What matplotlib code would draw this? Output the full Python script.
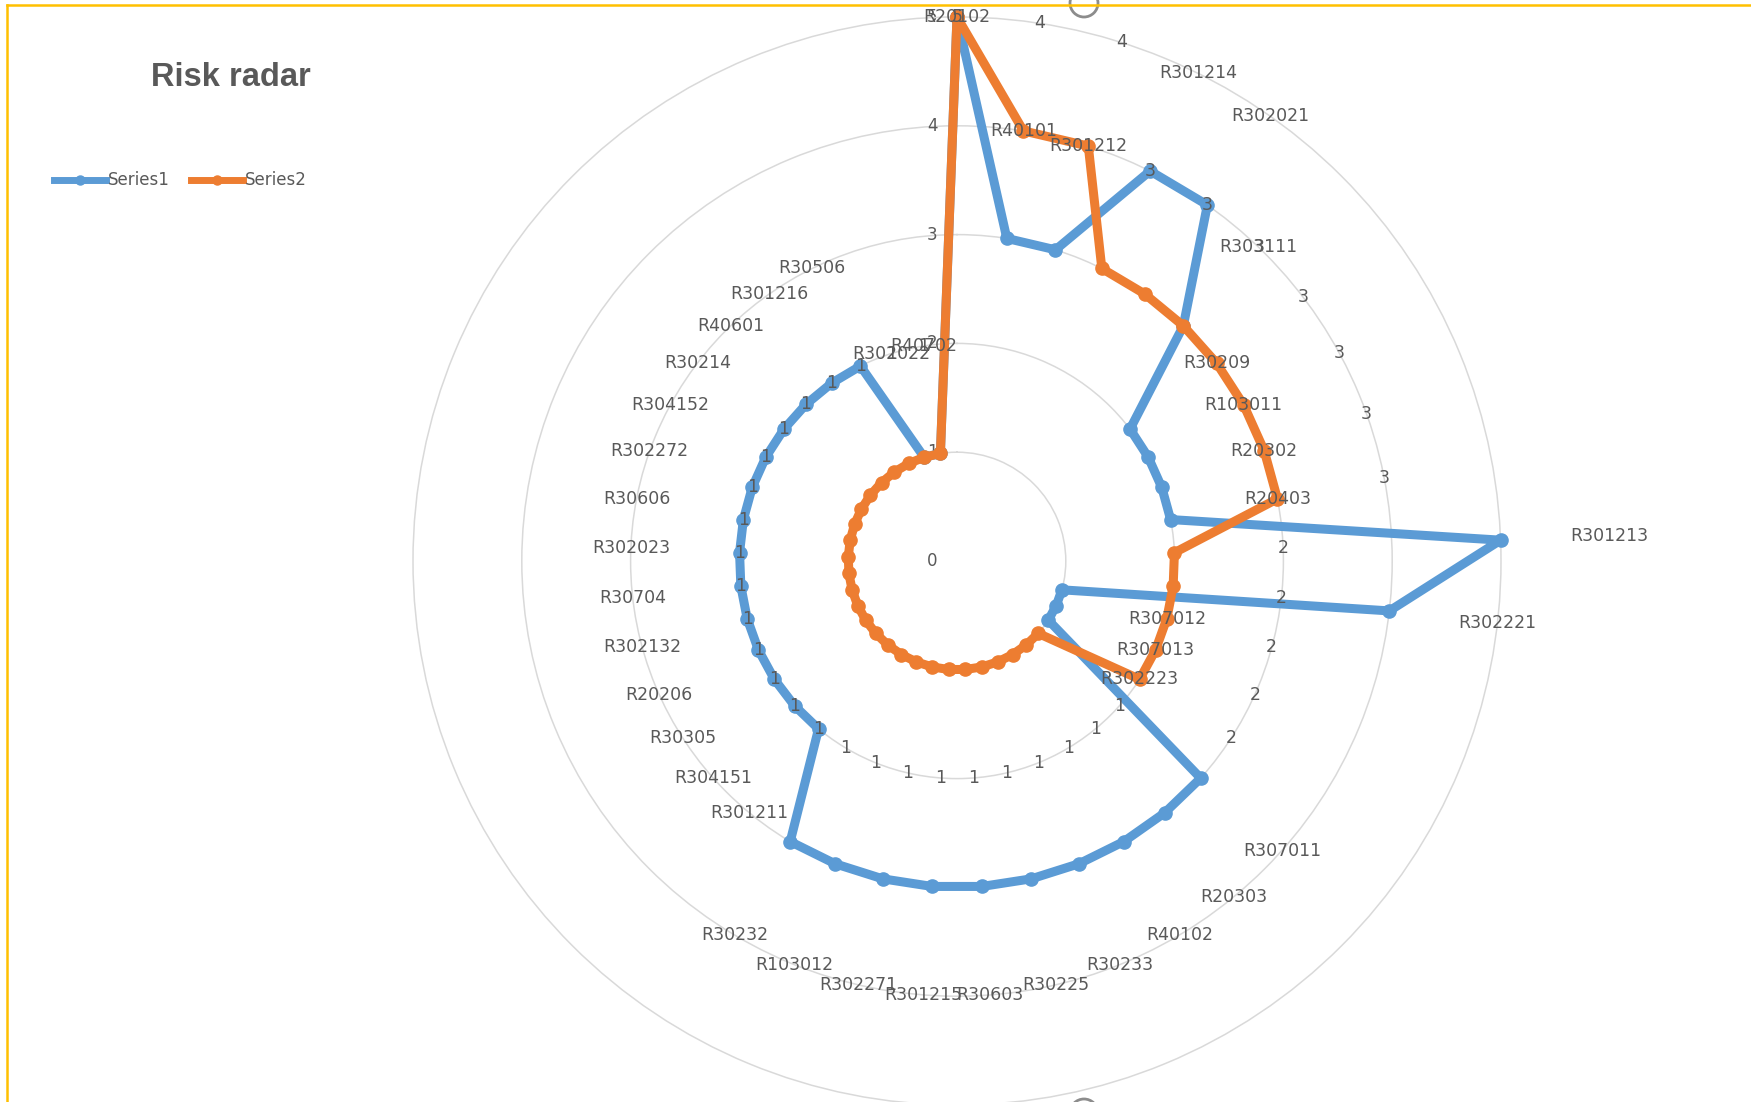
import numpy as np
import matplotlib
matplotlib.use("Agg")
import matplotlib.pyplot as plt
from matplotlib.lines import Line2D
from matplotlib.patches import Ellipse
from matplotlib.transforms import offset_copy

# risk codes, clockwise from the top
categories = [
    "R20102", "R40101", "R301212", "R301214", "R302021", "R303111", "R30209",
    "R103011", "R20302", "R20403", "R301213", "R302221", "R307012", "R307013",
    "R302223", "R307011", "R20303", "R40102", "R30233", "R30225", "R30603",
    "R301215", "R302271", "R103012", "R30232", "R301211", "R304151", "R30305",
    "R20206", "R302132", "R30704", "R302023", "R30606", "R302272", "R304152",
    "R30214", "R40601", "R301216", "R30506", "R302022", "R40702",
]

series1 = [5, 3, 3, 4, 4, 3, 2, 2, 2, 2,
           5, 4, 1, 1, 1, 3, 3, 3, 3, 3,
           3, 3, 3, 3, 3, 2, 2, 2, 2, 2,
           2, 2, 2, 2, 2, 2, 2, 2, 2, 1, 1]

series2 = [5, 4, 4, 3, 3, 3, 3, 3, 3, 3,
           2, 2, 2, 2, 2, 1, 1, 1, 1, 1,
           1, 1, 1, 1, 1, 1, 1, 1, 1, 1,
           1, 1, 1, 1, 1, 1, 1, 1, 1, 1, 1]

ring_ticks = [0, 1, 2, 3, 4, 5]

BLUE = "#5B9BD5"
ORANGE = "#ED7D31"
TEXT = "#595959"
GRID = "#d9d9d9"

W, H = 1751, 1102
fig = plt.figure(figsize=(W / 100, H / 100), dpi=100)
fig.patch.set_facecolor("white")

# polar area: centre and outer radius in pixels
cx, cy, R = 957, H - 561, 544
ax = fig.add_axes([(cx - R) / W, (cy - R) / H, 2 * R / W, 2 * R / H],
                  projection="polar")
ax.set_theta_offset(np.pi / 2)
ax.set_theta_direction(-1)
ax.set_ylim(0, 5)
ax.set_yticks(ring_ticks[1:-1])
ax.set_yticklabels([])
ax.set_xticks([])
ax.yaxis.grid(True, color=GRID, lw=1.1)
ax.spines["polar"].set_color(GRID)
ax.spines["polar"].set_linewidth(1.1)
ax.tick_params(length=0)
ax.set_facecolor("none")

n = len(categories)
theta = np.linspace(0, 2 * np.pi, n, endpoint=False)
t_closed = np.append(theta, theta[0])

ax.plot(t_closed, series1 + series1[:1], color=BLUE, lw=6.5, marker="o",
        ms=9.5, clip_on=False, zorder=3, solid_joinstyle="round")
ax.plot(t_closed, series2 + series2[:1], color=ORANGE, lw=6.5, marker="o",
        ms=9.5, clip_on=False, zorder=4, solid_joinstyle="round")

# radial axis values, just left of the vertical axis
tick_tr = offset_copy(ax.transData, fig=fig, x=-25, y=0, units="dots")
for k in ring_ticks:
    ax.text(0, k, str(k), transform=tick_tr, ha="center", va="center",
            fontsize=12, color=TEXT, zorder=2, clip_on=False)

# labels sit one ring outside their point and are kept inside the chart area
LABEL_GAP = 1.0
top_px = H - 17


def put_label(t, r, s):
    x, y = ax.transData.transform((t, r))
    y = min(y, top_px)
    fig.text(x / W, y / H, s, ha="center", va="center", fontsize=12.5,
             color=TEXT, zorder=6)


for t, v, name in zip(theta, series1, categories):
    put_label(t, v + LABEL_GAP, name)
for t, v in zip(theta, series2):
    put_label(t, v + LABEL_GAP, str(v))

# title
fig.text(231 / W, 1 - 78 / H, "Risk radar", fontsize=23.5, fontweight="bold",
         color=TEXT, ha="center", va="center", family="Liberation Sans")

# legend
ly = 1 - 180 / H
for x0, color, name in [(54, BLUE, "Series1"), (191, ORANGE, "Series2")]:
    fig.add_artist(Line2D([x0 / W, (x0 + 26) / W, (x0 + 52) / W], [ly] * 3,
                          transform=fig.transFigure, color=color, lw=5,
                          marker="o", ms=6.5, markevery=[1]))
    fig.text((x0 + 54) / W, ly, name, ha="left", va="center", fontsize=12,
             color=TEXT)

# chart frame edges and the small handles
fig.add_artist(Line2D([7 / W, 7 / W], [0, 1 - 5 / H], transform=fig.transFigure,
                      color="#FFC000", lw=1.8))
fig.add_artist(Line2D([7 / W, 1], [1 - 5 / H, 1 - 5 / H],
                      transform=fig.transFigure, color="#FFC000", lw=1.8))
for hy in (3, 1113):
    fig.add_artist(Ellipse((1084 / W, 1 - hy / H), 28 / W, 28 / H,
                           transform=fig.transFigure, fill=False,
                           ec="#8c8c8c", lw=2, zorder=1))

fig.savefig("out.png", dpi=100, facecolor="white")
